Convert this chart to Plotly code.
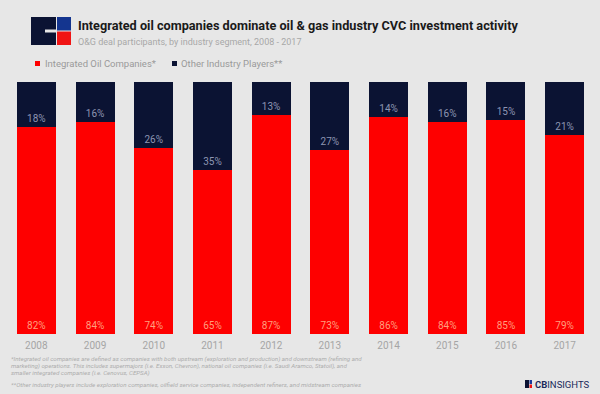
import plotly.graph_objects as go

years = ["2008", "2009", "2010", "2011", "2012", "2013", "2014", "2015", "2016", "2017"]
integrated = [82, 84, 74, 65, 87, 73, 86, 84, 85, 79]
other = [18, 16, 26, 35, 13, 27, 14, 16, 15, 21]
series_names = ["Integrated Oil Companies*", "Other Industry Players**"]

RED = "#fe0000"
NAVY = "#0b1333"
BG = "#e7e7e7"

W, H = 600, 394
L, R, T, B = 7, 6, 82, 60
PW = W - L - R
PH = H - T - B


def px(x):
    return (x - L) / PW


def py(y):
    return (H - B - y) / PH


fig = go.Figure()
fig.add_trace(go.Bar(
    x=years, y=integrated, name=series_names[0], marker_color=RED,
    marker_line_width=0,
    texttemplate="%{y}%", textposition="inside", insidetextanchor="start",
    textfont=dict(size=10, color="#ff9e7e", family="Roboto"),
    constraintext="none", showlegend=False,
))
fig.add_trace(go.Bar(
    x=years, y=other, name=series_names[1], marker_color=NAVY,
    marker_line_width=0,
    texttemplate="%{y}%", textposition="inside", insidetextanchor="start",
    textfont=dict(size=10, color="#8d95b2", family="Roboto"),
    constraintext="none", showlegend=False,
))

shapes = []
annotations = []

# top-left logo
shapes.append(dict(type="rect", xref="paper", yref="paper",
                   x0=px(31), x1=px(56), y0=py(45), y1=py(17),
                   fillcolor=NAVY, line_width=0, layer="above"))
shapes.append(dict(type="rect", xref="paper", yref="paper",
                   x0=px(57), x1=px(71), y0=py(30.5), y1=py(17),
                   fillcolor="#14358f", line_width=0, layer="above"))
shapes.append(dict(type="rect", xref="paper", yref="paper",
                   x0=px(57), x1=px(71), y0=py(45), y1=py(31.5),
                   fillcolor="#f01414", line_width=0, layer="above"))
shapes.append(dict(type="rect", xref="paper", yref="paper",
                   x0=px(45), x1=px(57), y0=py(32.5), y1=py(29.5),
                   fillcolor=BG, line_width=0, layer="above"))

annotations.append(dict(
    text="<b>Integrated oil companies dominate oil & gas industry CVC investment activity</b>",
    xref="paper", yref="paper", x=px(76), y=py(26), xanchor="left", yanchor="middle",
    showarrow=False, font=dict(size=12.7, color="#1a1a1a", family="Roboto")))
annotations.append(dict(
    text="O&G deal participants, by industry segment, 2008 - 2017",
    xref="paper", yref="paper", x=px(76), y=py(42), xanchor="left", yanchor="middle",
    showarrow=False, font=dict(size=9, color="#a8a8a8", family="Roboto")))

# legend
leg = [(35, 43, RED, series_names[0]), (172, 179, NAVY, series_names[1])]
for sx, tx, col, name in leg:
    shapes.append(dict(type="rect", xref="paper", yref="paper",
                       x0=px(sx), x1=px(sx + 5), y0=py(66), y1=py(61),
                       fillcolor=col, line_width=0))
    annotations.append(dict(text=name, xref="paper", yref="paper", x=px(tx), y=py(63.5),
                            xanchor="left", yanchor="middle", showarrow=False,
                            font=dict(size=9.5, color="#9a9a9a", family="Roboto")))

# footnotes
foot = [
    (359, "*Integrated oil companies are defined as companies with both upstream (exploration and production) and downstream (refining and"),
    (366, "marketing) operations. This includes supermajors (i.e. Exxon, Chevron), national oil companies (i.e. Saudi Aramco, Statoil), and"),
    (373, "smaller integrated companies (i.e. Cenovus, CEPSA)"),
    (385, "**Other industry players include exploration companies, oilfield service companies, independent refiners, and midstream companies"),
]
for y, t in foot:
    annotations.append(dict(text="<i>" + t + "</i>", xref="paper", yref="paper", x=px(9), y=py(y),
                            xanchor="left", yanchor="middle", showarrow=False,
                            font=dict(size=6.2, color="#adadad", family="Roboto")))

# bottom-right logo
shapes.append(dict(type="rect", xref="paper", yref="paper",
                   x0=px(525), x1=px(529), y0=py(388), y1=py(380),
                   fillcolor=NAVY, line_width=0))
shapes.append(dict(type="rect", xref="paper", yref="paper",
                   x0=px(529.5), x1=px(532), y0=py(384), y1=py(380),
                   fillcolor="#1a3a9a", line_width=0))
shapes.append(dict(type="rect", xref="paper", yref="paper",
                   x0=px(529.5), x1=px(532), y0=py(388), y1=py(384.5),
                   fillcolor="#f01414", line_width=0))
annotations.append(dict(text="<b>CB</b>INSIGHTS", xref="paper", yref="paper", x=px(533), y=py(384),
                        xanchor="left", yanchor="middle", showarrow=False,
                        font=dict(size=9.5, color="#1b2a5a", family="Roboto")))

fig.update_layout(
    width=W, height=H,
    margin=dict(l=L, r=R, t=T, b=B, pad=0),
    paper_bgcolor=BG, plot_bgcolor=BG,
    barmode="stack", bargap=0.335,
    xaxis=dict(showgrid=False, zeroline=False, showline=False, ticks="",
               ticklabelstandoff=4,
               tickfont=dict(size=10, color="#a5a5a5", family="Roboto"), fixedrange=True),
    yaxis=dict(range=[0, 100], visible=False, fixedrange=True),
    shapes=shapes, annotations=annotations,
    uniformtext=dict(mode=False),
)

fig.write_html("out.html", config={"displayModeBar": False},
               post_script="document.body.style.margin='0';document.body.style.overflow='hidden';")
